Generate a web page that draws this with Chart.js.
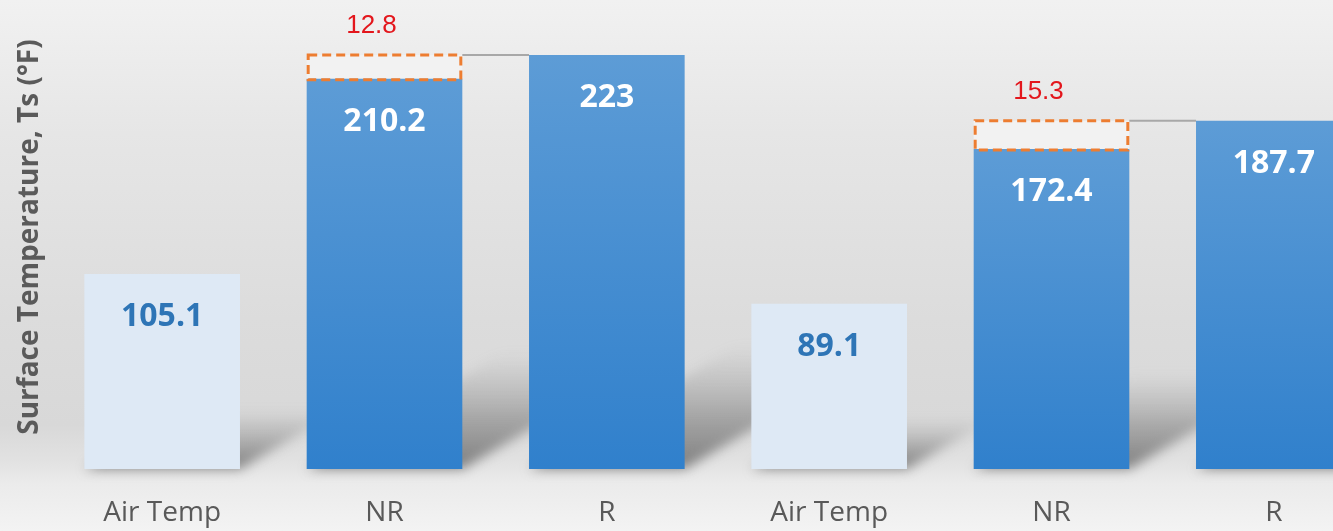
<!DOCTYPE html>
<html>
<head>
<meta charset="utf-8">
<script src="https://cdn.jsdelivr.net/npm/chart.js@4.4.1/dist/chart.umd.min.js"></script>
<style>
  html, body { margin: 0; padding: 0; overflow: hidden; background: #ededed; }
  #wrap { position: relative; width: 1400px; height: 531px; }
</style>
</head>
<body>
<div id="wrap"><canvas id="chart"></canvas></div>
<script>
// Surface temperatures for the two test groups
const categories = ['Air Temp', 'NR', 'R', 'Air Temp', 'NR', 'R'];
const surfaceTemps = [105.1, 210.2, 223, 89.1, 172.4, 187.7];
// Temperature difference between NR and R, stacked on top of each NR bar
const tempGaps = [null, 12.8, null, null, 15.3, null];
const yRange = [0, 250];
const yTitle = 'Surface Temperature, Ts (°F)';

const isAir = i => categories[i] === 'Air Temp';

// Page background: soft vertical grey gradient
const backdrop = {
  id: 'backdrop',
  beforeDraw(chart) {
    const { ctx, width, height } = chart;
    const g = ctx.createLinearGradient(0, 0, 0, height);
    g.addColorStop(0, '#f1f1f1');
    g.addColorStop(0.25, '#e6e6e6');
    g.addColorStop(0.6, '#dcdcdc');
    g.addColorStop(0.8, '#d8d8d8');
    g.addColorStop(0.87, '#e2e2e2');
    g.addColorStop(0.91, '#ebebeb');
    g.addColorStop(1, '#f3f3f3');
    ctx.save();
    ctx.fillStyle = g;
    ctx.fillRect(0, 0, width, height);
    ctx.restore();
  }
};

// Perspective shadows cast up and to the right of each bar
const barShadows = {
  id: 'barShadows',
  beforeDatasetsDraw(chart) {
    const { ctx } = chart;
    const meta = chart.getDatasetMeta(0);
    const skew = 1.7, scaleH = 0.3;
    ctx.save();
    ctx.filter = 'blur(6px)';
    meta.data.forEach(el => {
      const { x, y, base, width } = el.getProps(['x', 'y', 'base', 'width'], true);
      const l = x - width / 2, r = x + width / 2;
      const H = (base - y) * scaleH;
      const g = ctx.createLinearGradient(0, base, 0, base - H);
      g.addColorStop(0, 'rgba(90,90,90,0.75)');
      g.addColorStop(0.45, 'rgba(110,110,110,0.45)');
      g.addColorStop(1, 'rgba(140,140,140,0)');
      ctx.fillStyle = g;
      ctx.beginPath();
      ctx.moveTo(l, base);
      ctx.lineTo(r, base);
      ctx.lineTo(r + skew * H, base - H);
      ctx.lineTo(l + skew * H, base - H);
      ctx.closePath();
      ctx.fill();
    });
    ctx.restore();
  }
};

// Dashed outline on the gap segments, connector to the neighbouring bar, and red gap value
const gapMarks = {
  id: 'gapMarks',
  afterDatasetsDraw(chart) {
    const { ctx } = chart;
    const gapMeta = chart.getDatasetMeta(1);
    const barMeta = chart.getDatasetMeta(0);
    ctx.save();
    gapMeta.data.forEach((el, i) => {
      if (tempGaps[i] == null) return;
      const { x, y, base, width } = el.getProps(['x', 'y', 'base', 'width'], true);
      const l = x - width / 2, r = x + width / 2;
      // connector line to the next bar's top-left corner
      const next = barMeta.data[i + 1];
      if (next) {
        const np = next.getProps(['x', 'width'], true);
        ctx.setLineDash([]);
        ctx.strokeStyle = '#a8a8a8';
        ctx.lineWidth = 2;
        ctx.beginPath();
        ctx.moveTo(r, y);
        ctx.lineTo(np.x - np.width / 2, y);
        ctx.stroke();
      }
      // dashed outline
      ctx.setLineDash([9, 5]);
      ctx.strokeStyle = '#ed7d31';
      ctx.lineWidth = 3;
      ctx.strokeRect(l + 1.5, y, width - 3, base - y + 1);
      // value
      ctx.setLineDash([]);
      ctx.fillStyle = '#e3161c';
      ctx.font = '26px "Liberation Sans", Arial, sans-serif';
      ctx.textAlign = 'center';
      ctx.textBaseline = 'middle';
      ctx.fillText(tempGaps[i].toFixed(1), x - 13, y - 29);
    });
    ctx.restore();
  }
};

// Value labels inside each bar
const valueLabels = {
  id: 'valueLabels',
  afterDatasetsDraw(chart) {
    const { ctx } = chart;
    const meta = chart.getDatasetMeta(0);
    ctx.save();
    ctx.font = 'bold 32px "Open Sans", sans-serif';
    ctx.textAlign = 'center';
    ctx.textBaseline = 'middle';
    meta.data.forEach((el, i) => {
      const { x, y } = el.getProps(['x', 'y'], true);
      ctx.fillStyle = isAir(i) ? '#2e75b6' : '#ffffff';
      ctx.fillText(String(surfaceTemps[i]), x, y + 43);
    });
    ctx.restore();
  }
};

function barFill(context) {
  const i = context.dataIndex;
  const chart = context.chart;
  const area = chart.chartArea;
  if (isAir(i)) return '#dee9f5';
  if (!area || !chart.scales.y) return '#4a8dd2';
  const yTop = chart.scales.y.getPixelForValue(surfaceTemps[i]);
  const yBot = chart.scales.y.getPixelForValue(0);
  const g = chart.ctx.createLinearGradient(0, yTop, 0, yBot);
  g.addColorStop(0, '#5d9cd6');
  g.addColorStop(1, '#3080cc');
  return g;
}

new Chart(document.getElementById('chart'), {
  type: 'bar',
  data: {
    labels: categories,
    datasets: [
      {
        label: 'Surface temperature',
        data: surfaceTemps,
        backgroundColor: barFill,
        borderWidth: 0,
        barPercentage: 0.70,
        categoryPercentage: 1.0
      },
      {
        label: 'NR to R difference',
        data: tempGaps,
        backgroundColor: '#f2f2f2',
        borderWidth: 0,
        barPercentage: 0.70,
        categoryPercentage: 1.0
      }
    ]
  },
  options: {
    responsive: true,
    maintainAspectRatio: false,
    animation: false,
    devicePixelRatio: 1,
    layout: { padding: { top: 5, right: 15, bottom: 0, left: 0 } },
    plugins: {
      legend: { display: false },
      tooltip: { enabled: false }
    },
    scales: {
      x: {
        stacked: true,
        grid: { display: false, drawTicks: false },
        border: { display: false },
        ticks: {
          color: '#595959',
          font: { family: '"Open Sans", sans-serif', size: 28 },
          padding: 27,
          maxRotation: 0,
          autoSkip: false
        },
        afterFit(scale) { scale.height = 62; }
      },
      y: {
        stacked: true,
        min: yRange[0],
        max: yRange[1],
        grid: { display: false, drawTicks: false },
        border: { display: false },
        ticks: { display: false },
        title: {
          display: true,
          text: yTitle,
          color: '#5a5a5a',
          font: { family: '"Open Sans", sans-serif', size: 28, weight: 'bold' },
          padding: { top: 13, bottom: 0 }
        },
        afterFit(scale) { scale.width = 51; }
      }
    }
  },
  plugins: [backdrop, barShadows, gapMarks, valueLabels]
});
</script>
</body>
</html>
